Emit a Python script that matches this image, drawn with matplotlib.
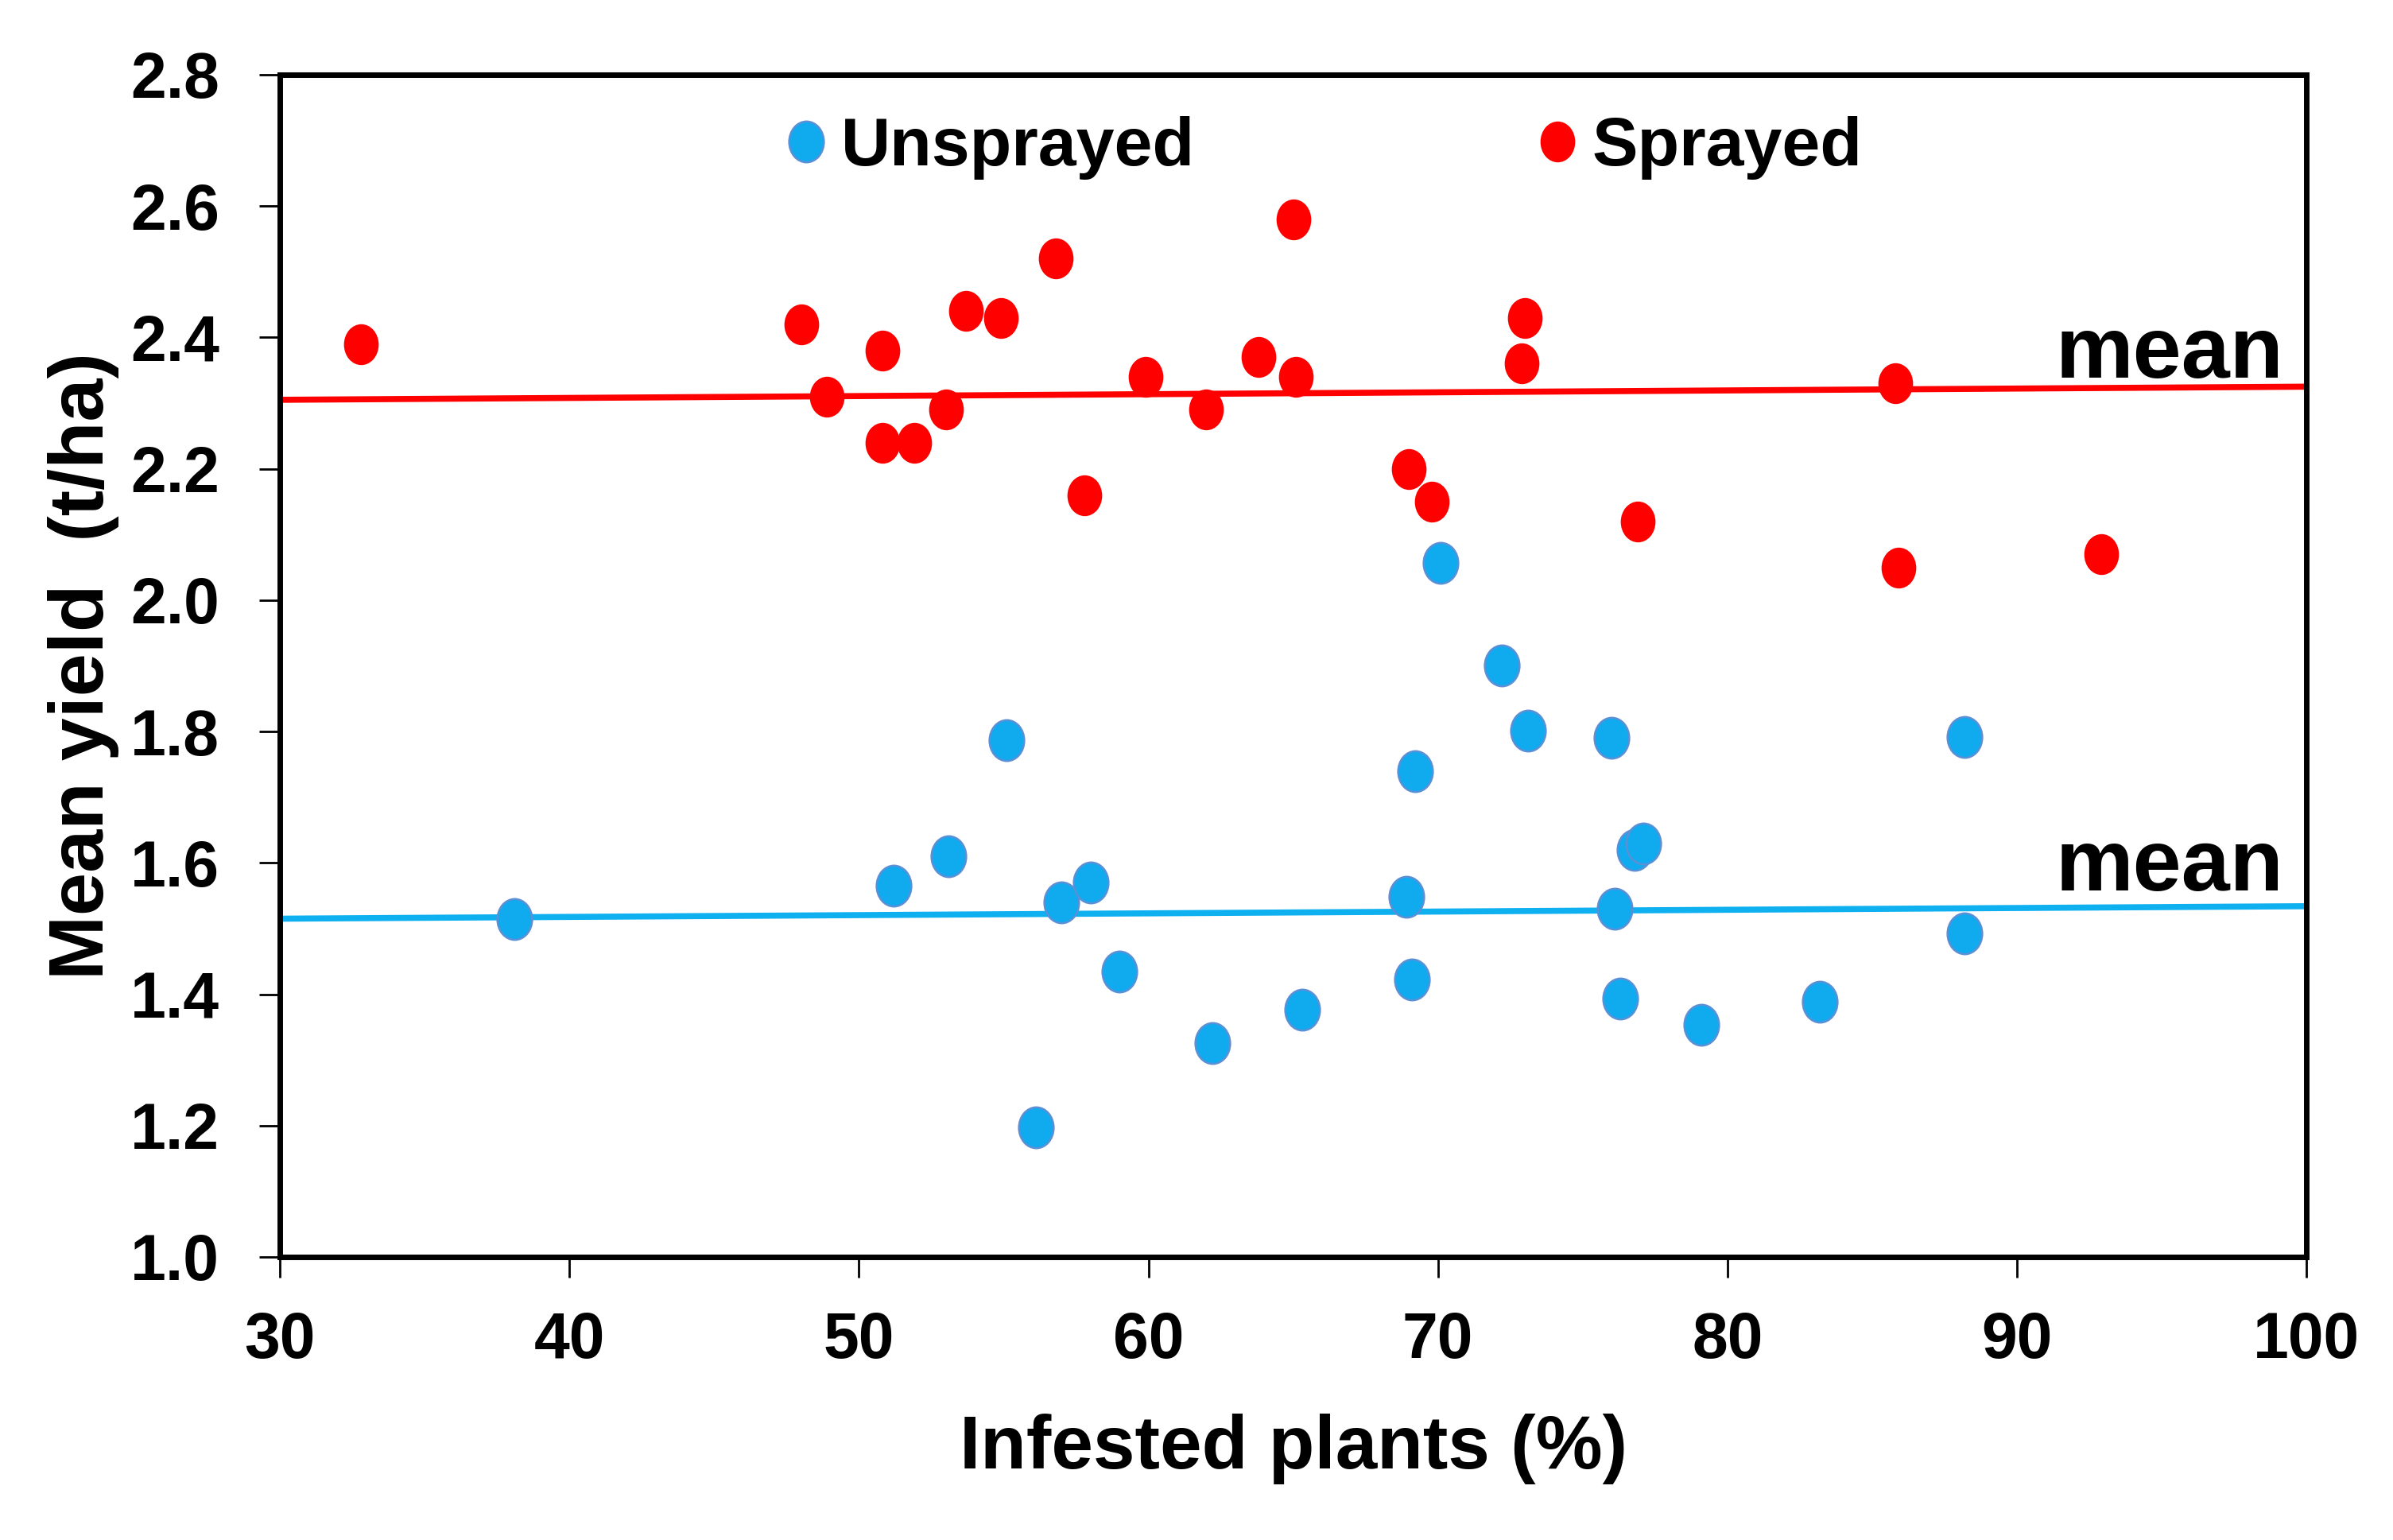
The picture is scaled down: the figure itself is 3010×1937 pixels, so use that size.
import matplotlib
matplotlib.use('Agg')
import matplotlib.pyplot as plt
from matplotlib.path import Path
from matplotlib.transforms import Affine2D
from matplotlib.lines import Line2D

# Sprayed plots: infested plants (%) and mean yield (t/ha)
sprayed_x = [32.8, 48.0, 48.9, 50.8, 50.8, 51.9, 53.0, 53.7, 54.9, 56.8, 57.8, 59.9,
             62.0, 63.8, 65.0, 65.1, 69.0, 69.8, 73.0, 72.9, 76.9, 85.8, 85.9, 92.9]
sprayed_y = [2.39, 2.42, 2.31, 2.38, 2.24, 2.24, 2.29, 2.44, 2.43, 2.52, 2.16, 2.34,
             2.29, 2.37, 2.58, 2.34, 2.20, 2.15, 2.43, 2.36, 2.12, 2.33, 2.05, 2.07]

# Unsprayed plots
unsprayed_x = [38.1, 51.2, 53.1, 55.1, 57.0, 58.0, 59.0, 56.1, 62.2, 65.3, 68.9, 69.1,
               69.2, 70.1, 72.2, 73.1, 76.0, 76.1, 76.3, 76.8, 77.1, 79.1, 83.2, 88.2, 88.2]
unsprayed_y = [1.515, 1.565, 1.61, 1.787, 1.54, 1.57, 1.434, 1.197, 1.325, 1.376, 1.548, 1.423,
               1.739, 2.057, 1.901, 1.801, 1.79, 1.53, 1.393, 1.62, 1.63, 1.353, 1.388, 1.792, 1.493]

# mean lines (start and end of the x range)
line_x = [30, 100]
sprayed_mean = [2.305, 2.325]
unsprayed_mean = [1.515, 1.534]

x_ticks = [30, 40, 50, 60, 70, 80, 90, 100]
y_ticks = [1.0, 1.2, 1.4, 1.6, 1.8, 2.0, 2.2, 2.4, 2.6, 2.8]

RED = '#FF0000'
BLUE = '#10AAEE'
BLUE_EDGE = '#5B8FD6'
LINE_BLUE = '#0FB0F0'

font = ['Liberation Sans', 'DejaVu Sans']

# tall ellipse marker, like the Excel export
ell = Path.unit_circle().transformed(Affine2D().scale(0.85, 1.0))
msize = 37

fig = plt.figure(figsize=(30.1, 19.37), dpi=100)
ax = fig.add_axes([0.117, 0.1838, 0.8468, 0.7677])

ax.plot(line_x, sprayed_mean, color=RED, lw=5.5, zorder=2)
ax.plot(line_x, unsprayed_mean, color=LINE_BLUE, lw=5.5, zorder=2)

ax.plot(sprayed_x, sprayed_y, linestyle='none', marker=ell, markersize=msize,
        color=RED, markeredgewidth=0, zorder=3)
ax.plot(unsprayed_x, unsprayed_y, linestyle='none', marker=ell, markersize=msize,
        markerfacecolor=BLUE, markeredgecolor=BLUE_EDGE, markeredgewidth=1.8, zorder=3)

ax.text(99.2, sprayed_mean[1] + 0.014, 'mean', ha='right', va='baseline',
        fontsize=79, fontweight='bold', family=font)
ax.text(99.2, unsprayed_mean[1] + 0.024, 'mean', ha='right', va='baseline',
        fontsize=79, fontweight='bold', family=font)

ax.set_xlim(30, 100)
ax.set_ylim(1.0, 2.8)
ax.set_xticks(x_ticks)
ax.set_yticks(y_ticks)
ax.set_xticklabels([str(t) for t in x_ticks])
ax.set_yticklabels([f'{t:.1f}' for t in y_ticks])
for lab in ax.get_xticklabels() + ax.get_yticklabels():
    lab.set_family(font)
    lab.set_fontweight('bold')
    lab.set_fontsize(58)

ax.tick_params(axis='both', direction='out', length=19, width=2, color='black')
ax.tick_params(axis='y', pad=36)
ax.tick_params(axis='x', pad=30)

for s in ax.spines.values():
    s.set_linewidth(5)
    s.set_color('black')

ax.set_xlabel('Infested plants (%)', fontsize=68, fontweight='bold', family=font, labelpad=38)
ax.set_ylabel('Mean yield  (t/ha)', fontsize=70, fontweight='bold', family=font, labelpad=10)

handles = [
    Line2D([], [], linestyle='none', marker=ell, markersize=msize, markerfacecolor=BLUE,
           markeredgecolor=BLUE_EDGE, markeredgewidth=1.8, label='Unsprayed'),
    Line2D([], [], linestyle='none', marker=ell, markersize=msize, color=RED,
           markeredgewidth=0, label='Sprayed'),
]
ax.legend(handles=handles, ncol=2, loc='center left', bbox_to_anchor=(0.2497, 0.938),
          frameon=False, borderpad=0, borderaxespad=0, handlelength=0.6,
          handletextpad=0.2, columnspacing=5.0,
          prop={'family': font, 'weight': 'bold', 'size': 62})

plt.savefig('out.png', dpi=100)
